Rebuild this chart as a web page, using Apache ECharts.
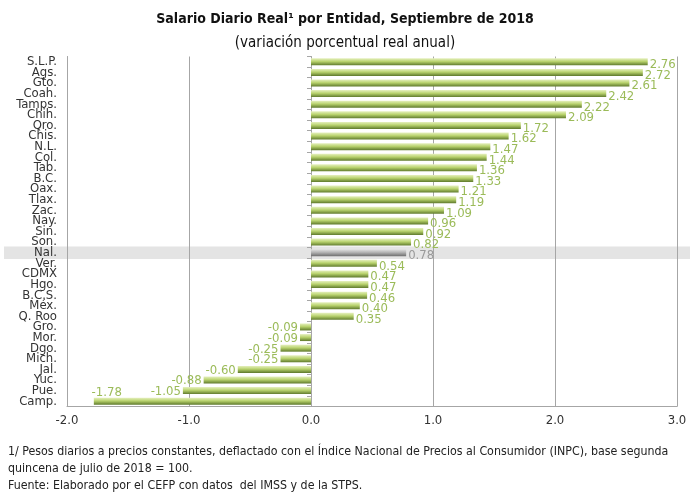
<!DOCTYPE html>
<html>
<head>
<meta charset="utf-8">
<script src="https://cdn.jsdelivr.net/npm/echarts@6/dist/echarts.min.js"></script>
<style>
  html, body { margin: 0; padding: 0; background: #fff; }
  #salarioChart { width: 690px; height: 495px; }
</style>
</head>
<body>
<div id="salarioChart"></div>
<script>
  const entidades = ['S.L.P.', 'Ags.', 'Gto.', 'Coah.', 'Tamps.', 'Chih.', 'Qro.', 'Chis.', 'N.L.', 'Col.', 'Tab.', 'B.C.', 'Oax.', 'Tlax.', 'Zac.', 'Nay.', 'Sin.', 'Son.', 'Nal.', 'Ver.', 'CDMX', 'Hgo.', 'B.C.S.', 'Méx.', 'Q. Roo', 'Gro.', 'Mor.', 'Dgo.', 'Mich.', 'Jal.', 'Yuc.', 'Pue.', 'Camp.']
  const variacion = [2.76, 2.72, 2.61, 2.42, 2.22, 2.09, 1.72, 1.62, 1.47, 1.44, 1.36, 1.33, 1.21, 1.19, 1.09, 0.96, 0.92, 0.82, 0.78, 0.54, 0.47, 0.47, 0.46, 0.40, 0.35, -0.09, -0.09, -0.25, -0.25, -0.60, -0.88, -1.05, -1.78]
  const ticksX = [-2, -1, 0, 1, 2, 3]
  const nacional = 'Nal.'

  const font = 'Liberation Sans Narrow, DejaVu Sans Condensed, sans-serif'
  const verde = new echarts.graphic.LinearGradient(0, 0, 0, 1, [
    { offset: 0, color: '#e6f0bf' },
    { offset: 0.45, color: '#b9d36e' },
    { offset: 1, color: '#5f7a2c' },
  ])
  const gris = new echarts.graphic.LinearGradient(0, 0, 0, 1, [
    { offset: 0, color: '#e2e2e2' },
    { offset: 0.45, color: '#b4b4b4' },
    { offset: 1, color: '#6e6e6e' },
  ])

  const chartDom = echarts.init(document.getElementById('salarioChart'))
  const option = {
    animation: false,
    title: [
      {
        text: 'Salario Diario Real¹ por Entidad, Septiembre de 2018',
        left: 'center',
        top: 7,
        textStyle: { fontFamily: font, fontSize: 14, fontWeight: 'bold', color: '#111' },
      },
      {
        text: '(variación porcentual real anual)',
        left: 'center',
        top: 31,
        textStyle: { fontFamily: font, fontSize: 15, fontWeight: 'normal', color: '#111' },
      },
      {
        text: '1/ Pesos diarios a precios constantes, deflactado con el Índice Nacional de Precios al Consumidor (INPC), base segunda\nquincena de julio de 2018 = 100.\nFuente: Elaborado por el CEFP con datos  del IMSS y de la STPS.',
        left: 8,
        top: 443,
        padding: 0,
        textStyle: { fontFamily: font, fontSize: 12.3, fontWeight: 'normal', color: '#222', lineHeight: 17 },
      },
    ],
    grid: { left: 67, right: 13, top: 56.5, bottom: 88.5 },
    xAxis: {
      type: 'value',
      min: ticksX[0],
      max: ticksX[ticksX.length - 1],
      interval: 1,
      axisLabel: {
        color: '#333',
        fontFamily: font,
        fontSize: 13,
        margin: 8,
        formatter: (v) => v.toFixed(1),
      },
      axisLine: { show: true, lineStyle: { color: '#a6a6a6' } },
      axisTick: { show: false },
      splitLine: { show: true, lineStyle: { color: '#a6a6a6' } },
    },
    yAxis: [
      {
        type: 'category',
        inverse: true,
        data: entidades,
        axisLine: { show: true, onZero: false, lineStyle: { color: '#a6a6a6' } },
        axisTick: { show: false },
        axisLabel: {
          interval: 0,
          hideOverlap: false,
          color: '#333',
          fontFamily: font,
          fontSize: 13,
          margin: 10,
          lineHeight: 11,
        },
      },
      {
        type: 'category',
        inverse: true,
        position: 'left',
        data: entidades,
        axisLine: { show: true, onZero: true, lineStyle: { color: '#a6a6a6' } },
        axisTick: { show: true, interval: 0, length: 4, lineStyle: { color: '#a6a6a6' } },
        axisLabel: { show: false },
      },
    ],
    series: [
      {
        type: 'bar',
        yAxisIndex: 0,
        barWidth: 7,
        data: variacion.map((v, i) => ({
          value: v,
          itemStyle: { color: entidades[i] === nacional ? gris : verde },
          label: {
            color: entidades[i] === nacional ? '#9a9a9a' : '#9bbb59',
            position: v < 0 ? 'left' : 'right',
            // la etiqueta de Camp. va arriba de la barra, como en el original
            offset: i === entidades.length - 1 ? [30, -9] : [0, v < 0 ? 1 : 3],
          },
        })),
        label: {
          show: true,
          fontFamily: font,
          fontSize: 13,
          distance: 2,
          formatter: (p) => p.value.toFixed(2),
        },
      },
    ],
  }
  chartDom.setOption(option)

  // franja gris de la fila nacional, a todo lo ancho
  const yNal = chartDom.convertToPixel({ yAxisIndex: 0 }, nacional)
  const banda = chartDom.getModel().getComponent('yAxis', 0).axis.getBandWidth()
  chartDom.setOption({
    graphic: [
      {
        type: 'rect',
        z: -1,
        silent: true,
        shape: { x: 4, y: yNal - banda / 2 - 1, width: 686, height: banda + 2 },
        style: { fill: '#e4e4e4' },
      },
    ],
  })
</script>
</body>
</html>
